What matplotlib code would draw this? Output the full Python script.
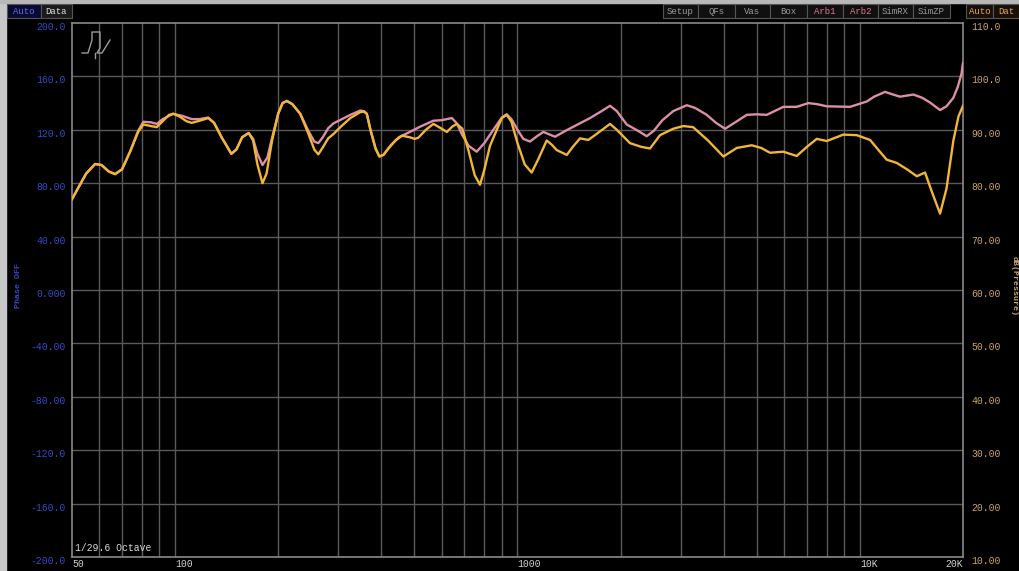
import matplotlib
matplotlib.use("Agg")
import matplotlib.pyplot as plt
import matplotlib.transforms as mtransforms
from matplotlib.patches import Rectangle
from matplotlib.lines import Line2D

# ---------------- data (right axis, dB) ----------------
freq_pink = [50, 52, 55, 58.4, 61, 64, 66.8, 70, 74, 78, 80.8, 85, 88.4, 92, 98.8, 105, 111.9,
             118, 125, 130, 137, 146, 151, 157, 164, 169, 174, 180, 186, 192, 200, 206, 212,
             220, 232, 245, 255, 262, 270, 280, 290, 305, 325, 347, 356, 363, 372, 385, 395,
             406, 425, 450, 485, 520, 568, 600, 643, 665, 690, 720, 760, 800, 850, 900, 930,
             960, 1000, 1040, 1088, 1140, 1190, 1287, 1380, 1489, 1629, 1750, 1863, 1950,
             2084, 2250, 2384, 2500, 2650, 2850, 3121, 3300, 3570, 3800, 4038, 4300, 4672,
             5000, 5344, 5977, 6538, 7070, 7500, 8002, 9360, 10471, 11000, 11838, 12500,
             13093, 14327, 15200, 16026, 17140, 17900, 18747, 19300, 19800, 20000]
db_pink = [77.0, 79.0, 81.8, 83.6, 83.4, 82.2, 81.7, 82.6, 86.0, 89.8, 91.5, 91.4, 91.1, 92.0,
           93.0, 92.6, 92.0, 92.0, 92.3, 91.3, 88.5, 85.5, 86.3, 88.6, 89.4, 88.3, 85.5, 83.4,
           84.8, 88.5, 93.0, 95.0, 95.4, 94.8, 93.0, 89.8, 87.8, 87.5, 88.6, 90.3, 91.2, 91.9,
           92.8, 93.6, 93.5, 93.0, 90.0, 86.5, 85.0, 85.3, 87.0, 88.6, 89.6, 90.6, 91.7, 91.8,
           92.2, 91.2, 89.0, 87.0, 85.9, 87.5, 90.0, 92.3, 92.9, 92.0, 90.0, 88.3, 87.8, 88.8,
           89.6, 88.7, 89.8, 90.9, 92.2, 93.4, 94.5, 93.5, 91.0, 89.8, 88.8, 89.8, 91.8, 93.5,
           94.6, 94.1, 92.8, 91.3, 90.2, 91.3, 92.8, 92.9, 92.8, 94.3, 94.3, 95.0, 94.8, 94.4,
           94.3, 95.3, 96.2, 97.1, 96.6, 96.2, 96.6, 96.0, 95.1, 93.7, 94.4, 96.0, 98.0, 100.5,
           102.5]

freq_yellow = [50, 52, 55, 58.4, 61, 64, 66.8, 70, 74, 78, 80.8, 85, 88.4, 92, 96, 98.8, 103,
               108, 111.9, 118, 125, 130, 137, 146, 151, 157, 164, 169, 174, 180, 185, 192,
               200, 206, 212, 220, 232, 245, 255, 262, 270, 280, 290, 305, 325, 347, 356, 363,
               372, 385, 395, 406, 420, 440, 460, 485, 500, 513, 540, 568, 590, 622, 645, 665,
               690, 720, 750, 777, 800, 831, 870, 900, 930, 960, 1000, 1050, 1100, 1150, 1217,
               1260, 1302, 1393, 1450, 1523, 1610, 1700, 1863, 1950, 2131, 2300, 2438, 2608,
               2850, 3050, 3256, 3600, 3993, 4369, 4830, 5150, 5463, 5977, 6538, 7000, 7480,
               8002, 8946, 9790, 10706, 11400, 11977, 12810, 13800, 14655, 15494, 16200, 17140,
               17900, 18747, 19400, 20000]
db_yellow = [77.0, 79.0, 81.8, 83.6, 83.4, 82.2, 81.7, 82.6, 86.0, 89.6, 91.0, 90.7, 90.5, 91.6,
             92.8, 93.0, 92.5, 91.6, 91.3, 91.7, 92.2, 91.3, 88.5, 85.5, 86.3, 88.6, 89.4, 88.0,
             83.5, 80.0, 81.8, 88.0, 93.0, 95.0, 95.4, 94.8, 93.0, 89.3, 86.3, 85.4, 86.7, 88.4,
             89.2, 90.6, 92.2, 93.3, 93.4, 93.0, 90.0, 86.5, 85.0, 85.3, 86.5, 88.0, 88.9, 88.6,
             88.3, 88.5, 90.0, 91.1, 90.5, 89.6, 90.6, 91.1, 90.2, 86.0, 81.5, 79.7, 82.5, 87.0,
             90.0, 92.2, 92.8, 91.5, 87.5, 83.5, 82.0, 84.5, 88.0, 87.2, 86.2, 85.3, 86.8, 88.4,
             88.1, 89.2, 91.1, 90.0, 87.5, 86.8, 86.5, 89.0, 90.2, 90.7, 90.5, 88.0, 85.0, 86.6,
             87.1, 86.6, 85.7, 85.9, 85.1, 86.8, 88.3, 87.9, 89.1, 89.0, 88.1, 86.0, 84.4, 83.8,
             82.5, 81.3, 82.0, 78.5, 74.3, 79.0, 88.0, 92.5, 94.5]

left_ticks = [200, 160, 120, 80, 40, 0, -40, -80, -120, -160, -200]
left_labels = ["200.0", "160.0", "120.0", "80.00", "40.00", "0.000", "-40.00", "-80.00",
               "-120.0", "-160.0", "-200.0"]
right_ticks = [110, 100, 90, 80, 70, 60, 50, 40, 30, 20, 10]
right_labels = ["110.0", "100.0", "90.00", "80.00", "70.00", "60.00", "50.00", "40.00",
                "30.00", "20.00", "10.00"]
x_ticks = [50, 100, 1000, 10000, 20000]
x_labels = ["50", "100", "1000", "10K", "20K"]
grid_freqs = [60, 70, 80, 90, 100, 200, 300, 400, 500, 600, 700, 800, 900, 1000,
              2000, 3000, 4000, 5000, 6000, 7000, 8000, 9000, 10000]
buttons = ["Setup", "QFs", "Vas", "Box", "Arb1", "Arb2", "SimRX", "SimZP"]

# ---------------- style ----------------
MONO = "Liberation Mono"
BLUE = "#3a48c8"
TAN = "#c9a46e"
PINK = "#dc8fa6"
YELLOW = "#f2b636"
GRID = "#5a5a5a"
FRAME = "#8a8a8a"

W, H = 1019, 571
fig = plt.figure(figsize=(W / 100, H / 100), dpi=100, facecolor="black")

fig.patches.append(Rectangle((0, 0), 6 / W, 1, transform=fig.transFigure, color="#c8c8c8", zorder=0))
fig.patches.append(Rectangle((0, 1 - 3 / H), 1, 3 / H, transform=fig.transFigure, color="#b8b8b8", zorder=0))

L, R, T, B = 72, 963, 23, 557
ax = fig.add_axes([L / W, 1 - B / H, (R - L) / W, (B - T) / H])
ax.set_facecolor("black")
ax.set_xscale("log")
ax.set_xlim(50, 20000)
ax.set_ylim(10, 110)

for f in grid_freqs:
    ax.axvline(f, color=GRID, lw=1.0, zorder=1)
for v in right_ticks[1:-1]:
    ax.axhline(v, color=GRID, lw=1.0, zorder=1)
for s in ax.spines.values():
    s.set_color(FRAME)
    s.set_linewidth(1.2)

ax.plot(freq_pink, db_pink, color=PINK, lw=1.7, zorder=3, solid_joinstyle="round")
ax.plot(freq_yellow, db_yellow, color=YELLOW, lw=1.7, zorder=4, solid_joinstyle="round")

ax.tick_params(which="both", length=0)
ax.set_xticks([])
ax.set_yticks([])
ax.minorticks_off()

axl = ax.twinx()
axl.set_ylim(-200, 200)
axl.set_yticks([])
for s in axl.spines.values():
    s.set_visible(False)

off = mtransforms.ScaledTranslation(0, -4 / 100, fig.dpi_scale_trans)
trl = mtransforms.blended_transform_factory(fig.transFigure, axl.transData) + off
for v, lab in zip(left_ticks, left_labels):
    fig.text(66 / W, v, lab, transform=trl, ha="right", va="center",
             color=BLUE, fontsize=7, family=MONO)
trr = mtransforms.blended_transform_factory(fig.transFigure, ax.transData) + off
for v, lab in zip(right_ticks, right_labels):
    fig.text(971 / W, v, lab, transform=trr, ha="left", va="center",
             color=TAN, fontsize=7, family=MONO)
trx = mtransforms.blended_transform_factory(ax.transData, fig.transFigure)
for f, lab in zip(x_ticks, x_labels):
    ha = "right" if f == x_ticks[-1] else "left"
    fig.text(f, 1 - 564 / H, lab, transform=trx, ha=ha, va="center",
             color="#d0d0d0", fontsize=7, family=MONO)

fig.text(18 / W, 0.5, "Phase OFF", rotation=90, ha="center", va="center",
         color=BLUE, fontsize=6, family=MONO, fontweight="bold")
fig.text(1014 / W, 0.5, "dB(Pressure)", rotation=270, ha="center", va="center",
         color=TAN, fontsize=6, family=MONO, fontweight="bold")

ax.text(75 / W, 1 - 548 / H, "1/29.6 Octave", transform=fig.transFigure, ha="left",
        va="center", color="#d8d8d8", fontsize=7, family=MONO)

# logo (decoration)
lx = [82, 88, 92, 92, 100, 100, 97, 102, 110]
ly = [53, 53, 40, 32, 32, 48, 53, 53, 40]
fig.add_artist(Line2D([x / W for x in lx], [1 - y / H for y in ly], color="#9a9a9a", lw=1.0))
fig.add_artist(Line2D([x / W for x in [95, 95]], [1 - y / H for y in [53, 58]], color="#9a9a9a", lw=1.0))

def button(x0, x1, text, color, bg="#101010", edge="#555555"):
    fig.patches.append(Rectangle((x0 / W, 1 - 18 / H), (x1 - x0) / W, 14 / H,
                                 transform=fig.transFigure, facecolor=bg, edgecolor=edge, lw=0.8))
    fig.text((x0 + x1) / 2 / W, 1 - 11 / H, text, ha="center", va="center", color=color,
             fontsize=6.5, family=MONO)

button(7, 41, "Auto", "#5a6cf0", bg="#0a0a30")
button(41, 72, "Data", "#e0e0e0", bg="#1a1a1a")
bx = [663, 698, 735, 770, 807, 843, 878, 913, 950]
for i, b in enumerate(buttons):
    col = "#e07a8a" if b.startswith("Arb") else "#9a9a9a"
    button(bx[i], bx[i + 1], b, col)
button(966, 993, "Auto", "#e0a860", bg="#181008")
button(993, 1019, "Dat", "#e0a860", bg="#181008")

fig.savefig("out.png", dpi=100, facecolor="black")
